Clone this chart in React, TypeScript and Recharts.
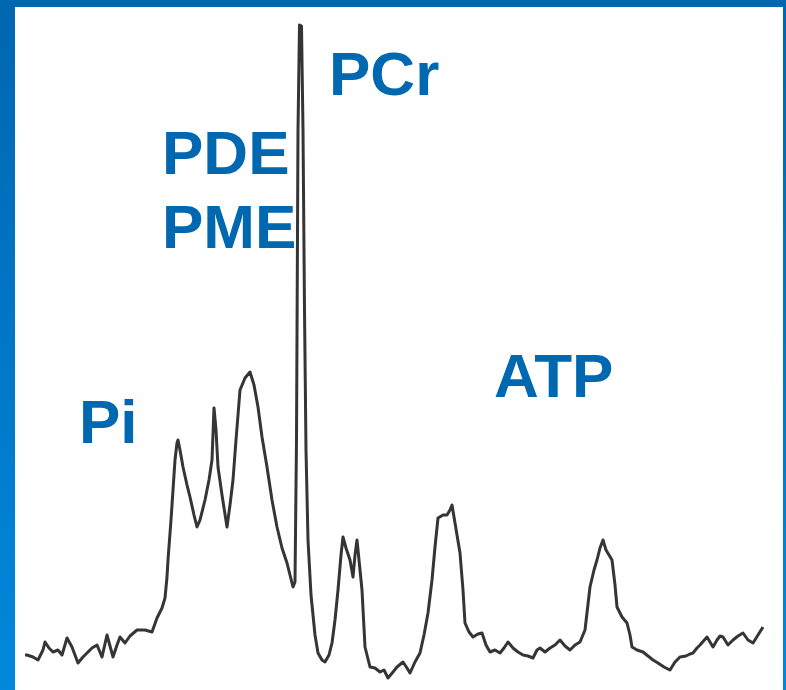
import { Line, LineChart, XAxis, YAxis } from "recharts";

// 31P spectrum trace (shift: position along the axis, signal: height)
const shift = [
  25, 27, 33, 38, 43, 45, 49, 53, 58, 62, 67, 72, 78, 83, 87, 92, 97, 102, 107,
  113, 117, 120, 125, 130, 137, 145, 152, 157, 162, 165, 167, 168, 171, 173, 175,
  177, 178, 180, 183, 187, 190, 194, 197, 200, 205, 209, 212, 214, 216, 218, 222,
  227, 230, 233, 236, 240, 245, 250, 254, 258, 262, 267, 272, 277, 282, 287, 290,
  293, 295, 296.5, 298, 299.5, 301.5, 303, 304.5, 306, 308, 311, 315, 318, 322,
  325, 329, 332, 335, 338, 341, 343, 346, 350, 353, 355, 357, 359, 362, 365, 370,
  375, 380, 384, 388, 393, 397, 403, 407, 410, 415, 420, 424, 428, 432, 435, 438,
  443, 447, 450, 452, 455, 460, 463, 465, 469, 473, 478, 482, 486, 490, 495, 500,
  504, 508, 513, 518, 523, 528, 533, 537, 540, 545, 550, 555, 560, 565, 570, 575,
  580, 585, 590, 594, 597, 600, 603, 606, 609, 612, 615, 617, 622, 627, 630, 632,
  637, 643, 648, 653, 658, 664, 670, 675, 680, 686, 690, 693, 697, 700, 707, 710,
  713, 717, 720, 723, 728, 733, 738, 743, 748, 753, 758, 763,
];

const signal = [
  35, 35, 33, 30, 40, 48, 42, 38, 40, 35, 52, 43, 27, 33, 37, 42, 45, 33, 55, 33,
  45, 53, 47, 54, 60, 60, 58, 72, 82, 92, 113, 130, 170, 200, 230, 247, 250, 240,
  223, 205, 193, 175, 163, 170, 190, 210, 230, 282, 260, 223, 195, 163, 185, 210,
  250, 300, 312, 318, 305, 283, 253, 223, 190, 163, 142, 127, 115, 103, 108, 250,
  560, 665, 664, 560, 380, 240, 150, 95, 55, 37, 30, 28, 35, 47, 70, 100, 135,
  153, 142, 130, 113, 135, 150, 130, 100, 43, 23, 22, 18, 20, 12, 18, 23, 28, 22,
  17, 28, 37, 55, 77, 110, 143, 172, 175, 175, 180, 185, 167, 137, 100, 67, 58, 53,
  56, 57, 45, 38, 40, 37, 42, 48, 42, 38, 35, 34, 32, 40, 42, 38, 42, 45, 50, 44,
  40, 45, 48, 60, 103, 120, 130, 142, 150, 140, 135, 130, 105, 83, 73, 67, 55, 43,
  40, 38, 34, 30, 27, 23, 20, 28, 33, 34, 36, 37, 42, 45, 53, 48, 43, 50, 54, 53,
  45, 50, 54, 57, 50, 47, 55, 63,
];

const peakNames = ["PCr", "PDE", "PME", "Pi", "ATP"];

const spectrum = shift.map((x, i) => ({ x, y: signal[i] }));

const labelPos: Record<string, { x: number; y: number }> = {
  PCr: { x: 329, y: 95 },
  PDE: { x: 162, y: 174 },
  PME: { x: 162, y: 248 },
  Pi: { x: 79, y: 443 },
  ATP: { x: 494, y: 397 },
};

const W = 786;
const H = 690;

export default function App() {
  return (
    <div
      style={{
        position: "absolute",
        left: 0,
        top: 0,
        width: W,
        height: H,
        background: "#ffffff",
        overflow: "hidden",
      }}
    >
      <LineChart
        width={W}
        height={H}
        data={spectrum}
        margin={{ top: 0, right: 0, bottom: 0, left: 0 }}
      >
        <XAxis type="number" dataKey="x" domain={[0, W]} hide />
        <YAxis type="number" domain={[0, H]} hide />
        <Line
          type="linear"
          dataKey="y"
          stroke="#353535"
          strokeWidth={3}
          strokeLinejoin="round"
          dot={false}
          isAnimationActive={false}
        />
      </LineChart>

      <svg
        width={W}
        height={H}
        style={{ position: "absolute", left: 0, top: 0, pointerEvents: "none" }}
      >
        {peakNames.map((name) => (
          <text
            key={name}
            x={labelPos[name].x}
            y={labelPos[name].y}
            fill="#0067b1"
            fontFamily="'Liberation Sans', Arial, sans-serif"
            fontWeight="bold"
            fontSize={62}
          >
            {name}
          </text>
        ))}
      </svg>

      {/* blue frame */}
      <div
        style={{
          position: "absolute",
          left: 0,
          top: 0,
          width: 15,
          height: H,
          background: "linear-gradient(#0066b0, #0088dd)",
        }}
      />
      <div
        style={{
          position: "absolute",
          left: 0,
          top: 0,
          width: W,
          height: 7,
          background: "#0068b1",
        }}
      />
      <div
        style={{
          position: "absolute",
          left: 783,
          top: 0,
          width: 3,
          height: H,
          background: "linear-gradient(#0066b0, #0088dd)",
        }}
      />
    </div>
  );
}
